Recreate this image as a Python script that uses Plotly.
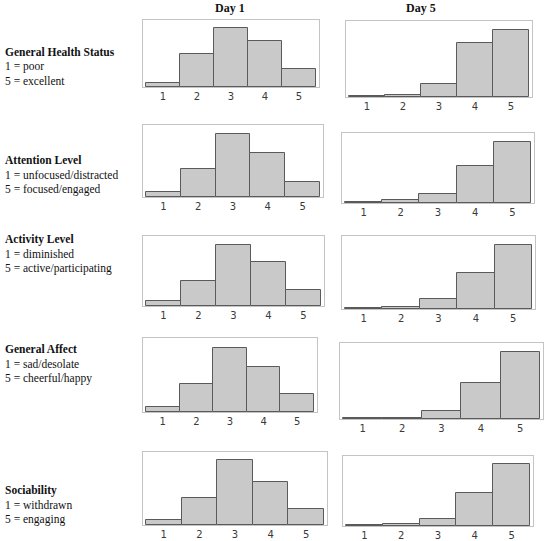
import plotly.graph_objects as go

# rating categories (1..5) and share of responses per category
ratings = [1, 2, 3, 4, 5]

health_day1 = [2.5, 20.5, 37, 29, 11]
attention_day1 = [3, 18, 41, 28.5, 9.5]
activity_day1 = [3.5, 16.5, 40.5, 29, 10.5]
affect_day1 = [3, 17.5, 40, 28.5, 11]
sociability_day1 = [3, 17.5, 42, 27.5, 10]

health_day5 = [0.7, 1.5, 9.5, 39.5, 48.8]
attention_day5 = [0.9, 2.7, 8.1, 33.3, 55]
activity_day5 = [0.9, 1.8, 8.8, 31.9, 56.6]
affect_day5 = [0.9, 1.3, 6.8, 31.8, 59.2]
sociability_day5 = [0.9, 2.2, 6.9, 31.3, 58.7]

day_titles = ["Day 1", "Day 5"]
measure_titles = ["General Health Status", "Attention Level", "Activity Level",
                  "General Affect", "Sociability"]
scale_low = ["1 = poor", "1 = unfocused/distracted", "1 = diminished",
             "1 = sad/desolate", "1 = withdrawn"]
scale_high = ["5 = excellent", "5 = focused/engaged", "5 = active/participating",
              "5 = cheerful/happy", "5 = engaging"]

day1 = [health_day1, attention_day1, activity_day1, affect_day1, sociability_day1]
day5 = [health_day5, attention_day5, activity_day5, affect_day5, sociability_day5]

W, H = 550, 541

# panel boxes in pixels: left, right, top, bottom (the source is a pasted collage)
boxes1 = [(143, 319, 20, 87), (143, 323, 125, 197), (143, 324, 236, 306),
          (143, 317, 338, 412), (143, 327, 452, 525)]
boxes5 = [(346, 532, 21, 97), (342, 534, 133, 203), (342, 535, 236, 309),
          (340, 543, 343, 419), (343, 533, 456, 526)]
ytop1 = [42, 46.8, 46.5, 46.4, 47]
ytop5 = [55.3, 63, 64.5, 67, 66.5]
label_y = [52, 160, 239, 349, 490]

serif = "Liberation Serif"
sans = "DejaVu Sans"

fig = go.Figure()
layout = {}
n = 0
for col, (data, boxes, ytops) in enumerate([(day1, boxes1, ytop1), (day5, boxes5, ytop5)]):
    for row in range(5):
        n += 1
        xa = "x" if n == 1 else "x%d" % n
        ya = "y" if n == 1 else "y%d" % n
        l, r, t, b = boxes[row]
        fig.add_trace(go.Bar(
            x=ratings, y=data[row], xaxis=xa, yaxis=ya,
            marker=dict(color="#c9c9c9", line=dict(color="#5a5a5a", width=1)),
            width=1, showlegend=False, hoverinfo="x+y"))
        pad = 3 * 5 / (r - l - 6)
        layout["xaxis" if n == 1 else "xaxis%d" % n] = dict(
            domain=[l / W, r / W], anchor=ya, range=[0.5 - pad, 5.5 + pad],
            tickvals=ratings, showgrid=False, zeroline=False,
            showline=True, mirror=True, linecolor="#c4c4c4", linewidth=1,
            ticks="", tickfont=dict(family=sans, size=10, color="#3a3a3a"))
        layout["yaxis" if n == 1 else "yaxis%d" % n] = dict(
            domain=[1 - b / H, 1 - t / H], anchor=xa, range=[0, ytops[row]],
            showgrid=False, zeroline=False, showticklabels=False,
            showline=True, mirror=True, linecolor="#c4c4c4", linewidth=1)

ann = []
for title, cx in zip(day_titles, [230, 438]):
    ann.append(dict(text="<b>%s</b>" % title, x=cx / W, y=1 - 8 / H,
                    xref="paper", yref="paper", yanchor="middle", showarrow=False,
                    font=dict(family=serif, size=12, color="#111")))
for i in range(5):
    lines = ["<b>%s</b>" % measure_titles[i], scale_low[i], scale_high[i]]
    for j, txt in enumerate(lines):
        ann.append(dict(text=txt, x=3 / W, y=1 - (label_y[i] + 14.5 * j) / H,
                        xref="paper", yref="paper", xanchor="left", yanchor="middle",
                        showarrow=False,
                        font=dict(family=serif, size=11.5, color="#111")))

fig.update_layout(width=W, height=H, margin=dict(l=0, r=0, t=0, b=0),
                  paper_bgcolor="white", plot_bgcolor="white",
                  bargap=0, annotations=ann, **layout)

# drop the browser's default body margin so the figure sits at the page corner
fig.write_html("out.html", config={"displayModeBar": False},
               post_script="document.body.style.margin='0';")
